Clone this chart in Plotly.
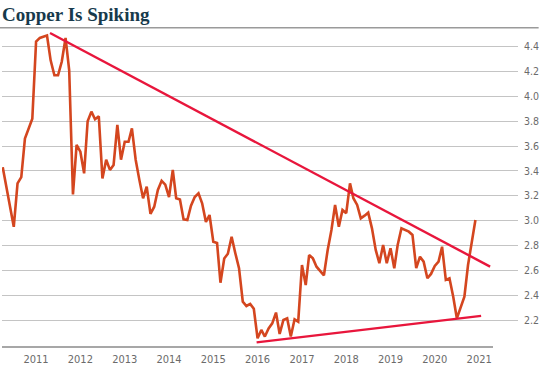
import plotly.graph_objects as go
import pandas as pd

# Monthly copper price ($/lb), Apr 2010 - Dec 2020
months = pd.date_range("2010-04-01", periods=129, freq="MS").strftime("%Y-%m-%d").tolist()
prices = [
    3.43, 3.27, 3.10, 2.95, 3.30, 3.35, 3.66, 3.74, 3.82,            # 2010 Apr-Dec
    4.44, 4.47, 4.48, 4.49, 4.29, 4.17, 4.17, 4.28, 4.47, 4.21, 3.21, 3.61,  # 2011
    3.555, 3.38, 3.80, 3.877, 3.816, 3.84, 3.34, 3.49, 3.408, 3.448, 3.77, 3.49,  # 2012
    3.635, 3.635, 3.743, 3.49, 3.33, 3.18, 3.273, 3.054, 3.112, 3.247, 3.32, 3.29,  # 2013
    3.19, 3.408, 3.18, 3.17, 3.01, 3.005, 3.12, 3.19, 3.22, 3.14, 2.99, 3.045,  # 2014
    2.83, 2.82, 2.50, 2.695, 2.733, 2.87, 2.74, 2.617, 2.348, 2.313, 2.33, 2.29,  # 2015
    2.053, 2.12, 2.067, 2.133, 2.173, 2.26, 2.088, 2.20, 2.213, 2.067, 2.206, 2.187,  # 2016
    2.643, 2.482, 2.723, 2.696, 2.629, 2.597, 2.56, 2.764, 2.925, 3.126, 2.95, 3.086,  # 2017
    3.06, 3.30, 3.18, 3.126, 3.018, 3.04, 3.064, 2.938, 2.764, 2.657, 2.804, 2.657,  # 2018
    2.778, 2.617, 2.804, 2.938, 2.925, 2.911, 2.885, 2.617, 2.71, 2.67, 2.536, 2.571,  # 2019
    2.635, 2.67, 2.79, 2.523, 2.536, 2.388, 2.213, 2.307, 2.388, 2.643, 2.844, 3.005,  # 2020
]

# Trend lines (endpoints)
upper_dates = ["2011-04-26", "2021-04-01"]
upper_vals = [4.51, 2.63]
lower_dates = ["2015-12-24", "2021-01-17"]
lower_vals = [2.02, 2.233]

y_ticks = [2.2, 2.4, 2.6, 2.8, 3.0, 3.2, 3.4, 3.6, 3.8, 4.0, 4.2, 4.4]
x_ticks = [f"{y}-01-01" for y in range(2011, 2022)]
x_labels = [str(y) for y in range(2011, 2022)]

LINE_COLOR = "#d4461f"
TREND_COLOR = "#e8163c"
LABEL_FONT = "Liberation Sans Narrow, DejaVu Sans Condensed, Roboto, sans-serif"

fig = go.Figure()
fig.add_trace(go.Scatter(x=months, y=prices, mode="lines",
                         line=dict(color=LINE_COLOR, width=2.6), hoverinfo="x+y"))
fig.add_trace(go.Scatter(x=upper_dates, y=upper_vals, mode="lines",
                         line=dict(color=TREND_COLOR, width=2.4), hoverinfo="skip"))
fig.add_trace(go.Scatter(x=lower_dates, y=lower_vals, mode="lines",
                         line=dict(color=TREND_COLOR, width=2.4), hoverinfo="skip"))

fig.update_layout(
    width=540, height=367,
    margin=dict(l=2, r=22, t=30, b=20, autoexpand=False),
    paper_bgcolor="white", plot_bgcolor="white",
    showlegend=False,
    xaxis=dict(
        type="date", automargin=False,
        range=["2010-03-26", "2021-11-17"],
        tickvals=x_ticks, ticktext=x_labels,
        showgrid=False, zeroline=False, showline=False,
        ticks="", ticklabelstandoff=4,
        tickfont=dict(family=LABEL_FONT, size=11, color="#6b6b6b"),
    ),
    yaxis=dict(
        side="right", automargin=False,
        range=[1.983, 4.534],
        tickvals=y_ticks, ticktext=[f"{v:.1f}" for v in y_ticks],
        showgrid=True, gridcolor="#c4c4c4", gridwidth=1,
        zeroline=False, showline=False, ticks="", ticklabelstandoff=5,
        tickfont=dict(family=LABEL_FONT, size=10.5, color="#6b6b6b"),
    ),
    shapes=[
        # x-axis baseline
        dict(type="line", xref="x", yref="paper", x0="2010-03-26", x1="2021-04-25",
             y0=0, y1=0, line=dict(color="#8a8a8a", width=1.5)),
        # rule under the title
        dict(type="line", xref="paper", yref="paper", x0=-0.004, x1=1.04,
             y0=1.007, y1=1.007, line=dict(color="#9a9a9a", width=1.5)),
    ],
    annotations=[
        dict(text="<b>Copper Is Spiking</b>", xref="paper", yref="paper",
             x=-0.004, y=1.088, xanchor="left", yanchor="top", showarrow=False,
             font=dict(family="Liberation Serif, DejaVu Serif, serif", size=19, color="#173a4c")),
    ],
)

fig.write_html("out.html", config={"displayModeBar": False},
               post_script="document.body.style.margin='0';")
